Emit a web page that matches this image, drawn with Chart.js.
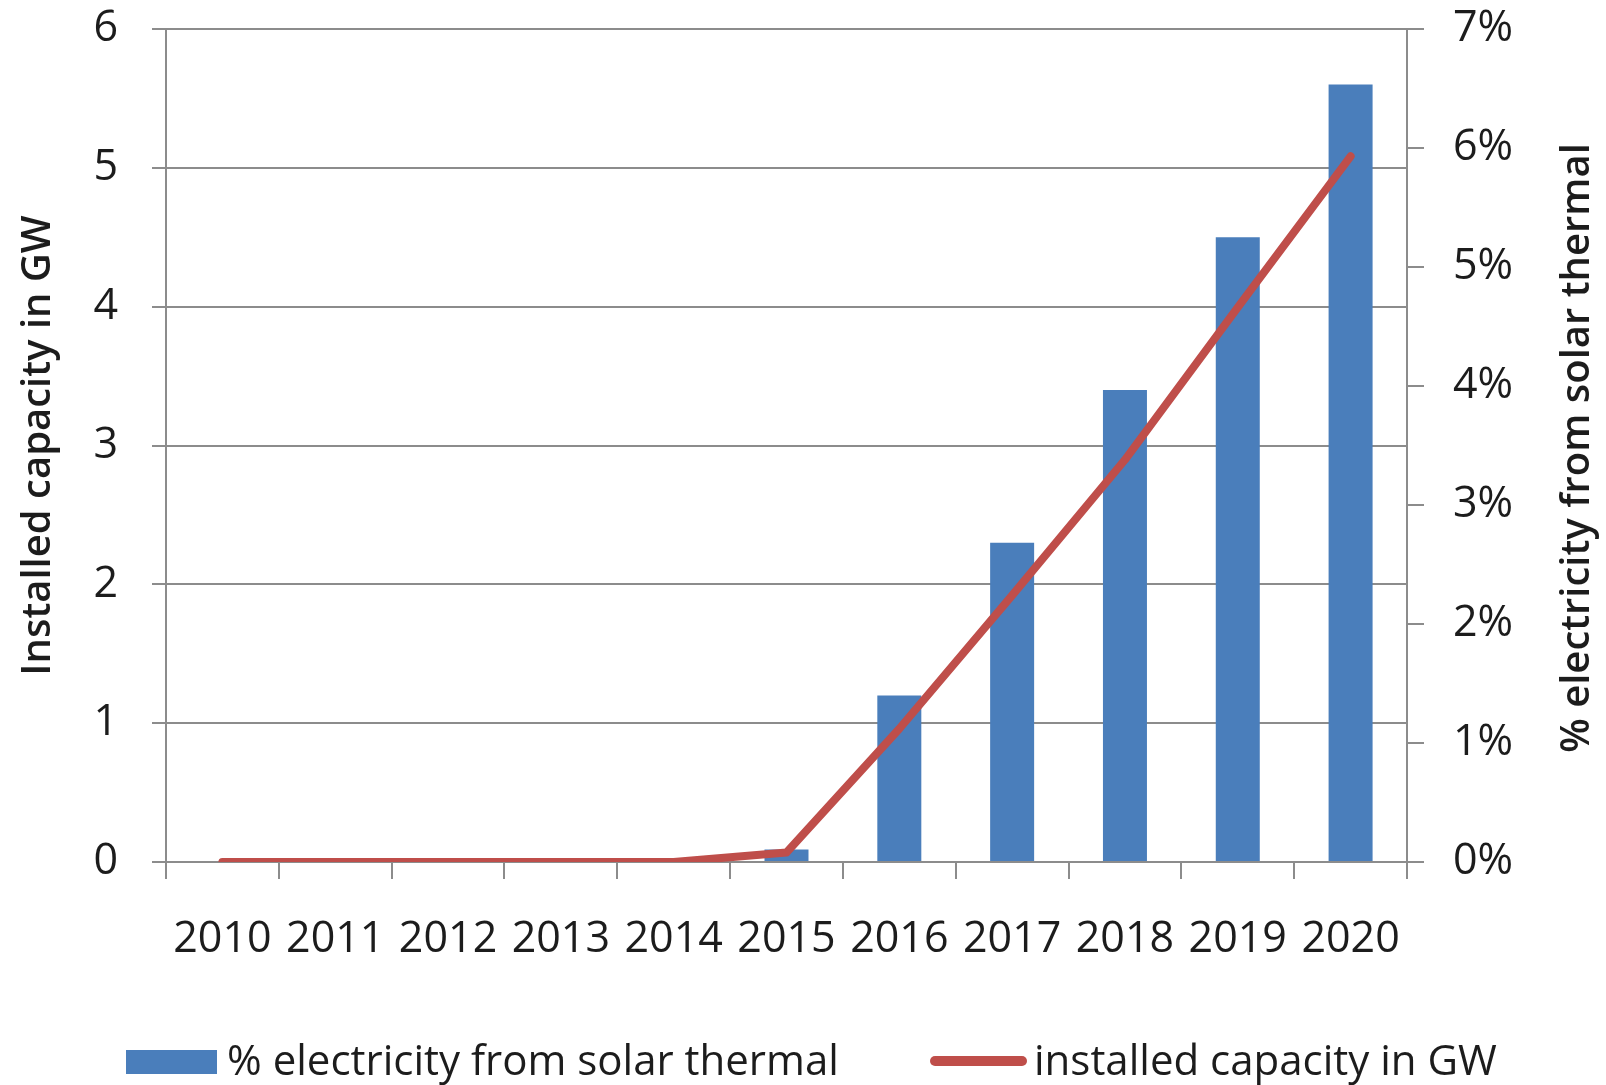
<!DOCTYPE html>
<html lang="en">
<head>
    <meta charset="UTF-8">
    <title>Solar thermal capacity</title>
    <style>
        html, body {
            margin: 0;
            padding: 0;
            background: #fff;
        }
        #wrap {
            width: 1606px;
            height: 1085px;
        }
    </style>
</head>
<body>
    <div id="wrap"><canvas id="chart" width="1606" height="1085"></canvas></div>

    <script src="https://cdn.jsdelivr.net/npm/chart.js"></script>
    <script>
        // data
        const years = ['2010', '2011', '2012', '2013', '2014', '2015', '2016', '2017', '2018', '2019', '2020'];
        const electricityShare = [0, 0, 0, 0, 0, 0.09, 1.2, 2.3, 3.4, 4.5, 5.6];          // bars, left axis
        const installedCapacity = [0, 0, 0, 0, 0, 0.08, 1.12, 2.24, 3.38, 4.66, 5.93];    // line, right axis
        const leftTickLabels = ['0', '1', '2', '3', '4', '5', '6'];
        const rightTickLabels = ['0%', '1%', '2%', '3%', '4%', '5%', '6%', '7%'];

        const gridColor = '#8c8c8c';
        const textColor = '#1c1c1c';
        const fontFamily = '"Open Sans", sans-serif';

        // right axis title reads bottom-to-top, plus the bottom legend
        const extrasPlugin = {
            id: 'extras',
            afterDraw(chart) {
                const ctx = chart.ctx;
                const bar = chart.data.datasets[0];
                const line = chart.data.datasets[1];
                ctx.save();

                ctx.fillStyle = textColor;
                ctx.font = '600 40px ' + fontFamily;
                ctx.textAlign = 'center';
                ctx.textBaseline = 'middle';
                ctx.translate(1578, 448);
                ctx.rotate(-Math.PI / 2);
                ctx.fillText('% electricity from solar thermal', 0, 0);
                ctx.setTransform(1, 0, 0, 1, 0, 0);

                ctx.font = '42px ' + fontFamily;
                ctx.textAlign = 'left';
                ctx.fillStyle = bar.backgroundColor;
                ctx.fillRect(126, 1050, 91, 24);
                ctx.fillStyle = textColor;
                ctx.fillText(bar.label, 227, 1063);

                ctx.strokeStyle = line.borderColor;
                ctx.lineWidth = 10;
                ctx.lineCap = 'round';
                ctx.beginPath();
                ctx.moveTo(935, 1061);
                ctx.lineTo(1022, 1061);
                ctx.stroke();
                ctx.fillStyle = textColor;
                ctx.fillText(line.label, 1034, 1063);

                ctx.restore();
            }
        };

        // pin the plot area: 166px left margin, 199px right, top at 29px
        function fitLeft(s) {
            s.width = 166;
            s.paddingTop = 29;
            s.paddingBottom = 0;
        }
        function fitRight(s) {
            s.width = 199;
            s.paddingTop = 29;
            s.paddingBottom = 0;
        }

        const ctx = document.getElementById('chart').getContext('2d');
        const chart = new Chart(ctx, {
            type: 'bar',
            data: {
                labels: years,
                datasets: [
                    {
                        type: 'bar',
                        label: '% electricity from solar thermal',
                        data: electricityShare,
                        backgroundColor: '#4A7EBB',
                        yAxisID: 'y',
                        order: 2,
                        barPercentage: 0.39,
                        categoryPercentage: 1
                    },
                    {
                        type: 'line',
                        label: 'installed capacity in GW',
                        data: installedCapacity,
                        borderColor: '#BF4E4A',
                        backgroundColor: '#BF4E4A',
                        borderWidth: 8,
                        borderCapStyle: 'round',
                        borderJoinStyle: 'round',
                        pointRadius: 0,
                        tension: 0,
                        yAxisID: 'y1',
                        order: 1
                    }
                ]
            },
            options: {
                responsive: false,
                animation: false,
                devicePixelRatio: 1,
                layout: {
                    padding: { top: 0, left: 0, right: 0, bottom: 0 }
                },
                plugins: {
                    legend: { display: false },
                    tooltip: { enabled: false }
                },
                scales: {
                    x: {
                        grid: {
                            drawOnChartArea: false,
                            offset: true,
                            color: gridColor,
                            lineWidth: 2,
                            tickLength: 17
                        },
                        border: { color: gridColor, width: 2 },
                        ticks: {
                            color: textColor,
                            font: { family: fontFamily, size: 43 },
                            padding: 35,
                            maxRotation: 0,
                            autoSkip: false
                        },
                        afterFit: s => { s.height = 223; }
                    },
                    y: {
                        position: 'left',
                        min: 0,
                        max: 6,
                        grid: {
                            color: gridColor,
                            lineWidth: 2,
                            tickLength: 14
                        },
                        border: { color: gridColor, width: 2 },
                        ticks: {
                            stepSize: 1,
                            padding: 34,
                            color: textColor,
                            font: { family: fontFamily, size: 43 },
                            callback: v => leftTickLabels[v]
                        },
                        title: {
                            display: true,
                            text: 'Installed capacity in GW',
                            color: textColor,
                            font: { family: fontFamily, size: 40, weight: 600 },
                            padding: { top: 15, bottom: 0 }
                        },
                        afterFit: fitLeft
                    },
                    y1: {
                        position: 'right',
                        min: 0,
                        max: 7,
                        grid: {
                            drawOnChartArea: false,
                            color: gridColor,
                            lineWidth: 2,
                            tickLength: 17
                        },
                        border: { color: gridColor, width: 2 },
                        ticks: {
                            stepSize: 1,
                            padding: 29,
                            color: textColor,
                            font: { family: fontFamily, size: 43 },
                            callback: v => rightTickLabels[v]
                        },
                        afterFit: fitRight
                    }
                }
            },
            plugins: [extrasPlugin]
        });
    </script>
</body>
</html>
